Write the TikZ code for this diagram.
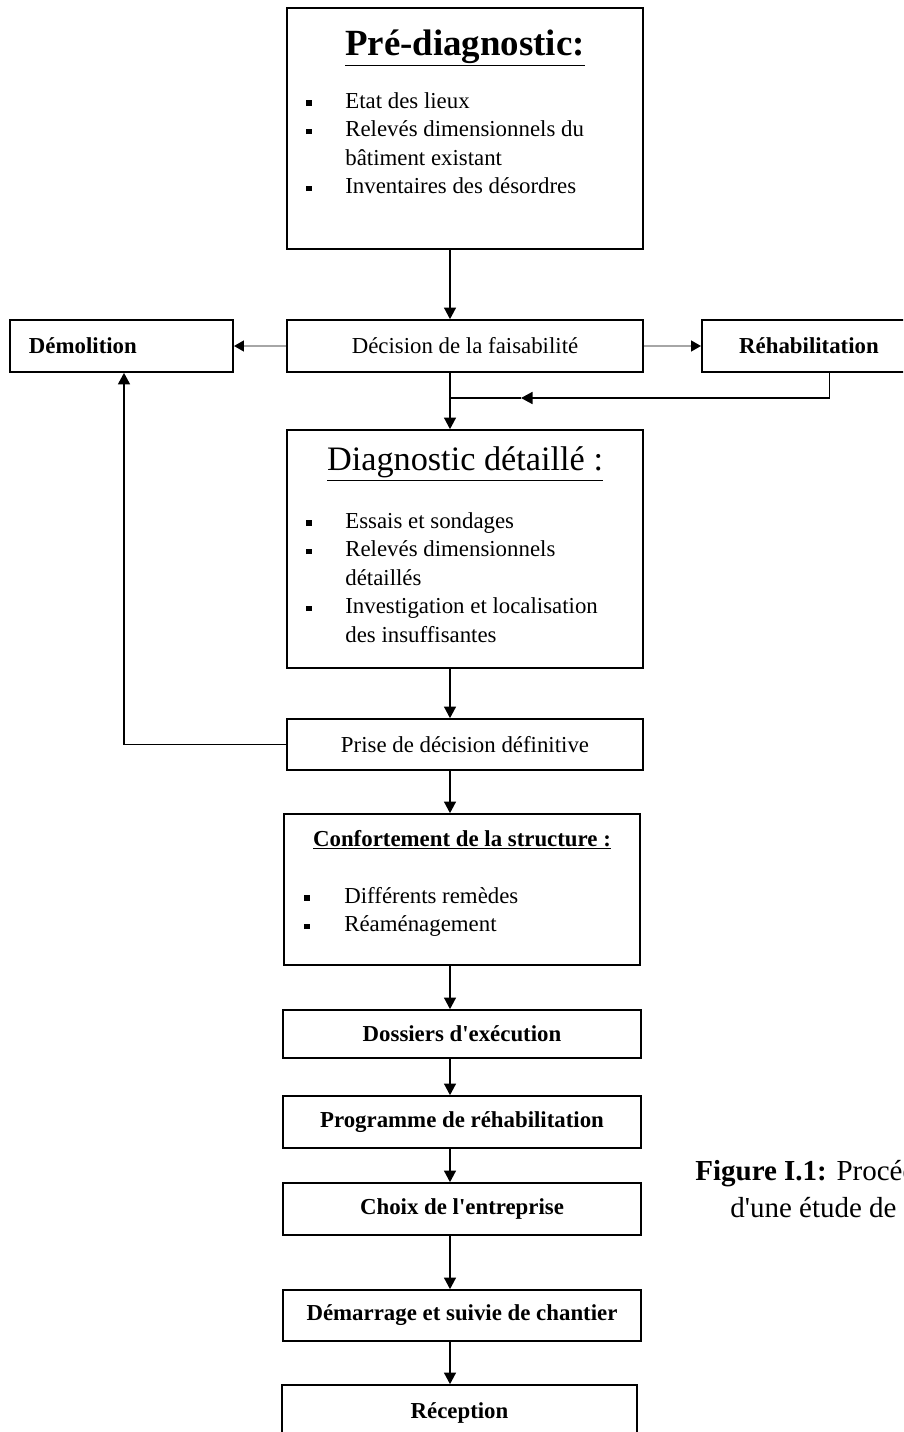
\documentclass[tikz,border=0pt]{standalone}
\usepackage{fontspec}
\setmainfont{Liberation Serif}[Ligatures=TeXOff]
\usetikzlibrary{arrows.meta,positioning}

% petite puce carree des listes
\newcommand{\puce}{\rule[0.25ex]{1.1mm}{1.1mm}}

\begin{document}
\begin{tikzpicture}[x=0.2mm, y=-0.2mm, font=\fontsize{13}{16.2}\selectfont,
  >={Triangle[length=2.3mm, width=2.4mm]},
  box/.style={draw, line width=1pt, minimum width=71.2mm, inner sep=0pt},
  etape/.style={box, minimum height=10.4mm, font=\fontsize{13}{16.2}\selectfont\bfseries},
  titre/.style={anchor=base, inner sep=0pt, font=\fontsize{21}{25}\selectfont\bfseries},
  liste/.style={anchor=north west, inner sep=0pt, align=left},
  arrow/.style={->, line width=0.6pt},
  grisarrow/.style={-{Triangle[length=2mm, width=2.1mm, color=black]}, draw=black!35, line width=1.7pt}]
  \useasboundingbox (0,0) rectangle (903,1432);
  \clip (0,0) rectangle (903,1432);
  \coordinate (axe) at (450,0);

  % pre-diagnostic
  \node[box, minimum height=48.2mm] (prediag) at (465,128.5) {};
  \node[titre] (prediag-titre) at (465,55) {\underline{Pré-diagnostic:}};
  \node[liste] (prediag-liste) at (306,88) {\begin{tabular}{@{}p{7.8mm}@{}l@{}}
    \puce & Etat des lieux\\
    \puce & Relevés dimensionnels du\\
          & bâtiment existant\\
    \puce & Inventaires des désordres
  \end{tabular}};

  % decision de la faisabilite
  \node[box, minimum height=10.4mm] (decision) at (465,346) {Décision de la faisabilité};
  \node[etape, minimum width=44.6mm, text width=37mm, align=left] (demolition) at (121.5,346) {Démolition};
  \node[etape, minimum width=42.8mm] (rehab) at (809,346) {Réhabilitation};
  \coordinate (retour) at (829.5,398);
  \coordinate (pointe) at (521,398);
  \coordinate (jonction) at (450,398);
  \coordinate (montee) at (124,0);

  % diagnostic detaille
  \node[box, minimum height=47.6mm] (diag) at (465,549) {};
  \node[titre, font=\fontsize{19.5}{24}\selectfont] (diag-titre) at (465,470) {\underline{Diagnostic détaillé :}};
  \node[liste] (diag-liste) at (306,508) {\begin{tabular}{@{}p{7.8mm}@{}l@{}}
    \puce & Essais et sondages\\
    \puce & Relevés dimensionnels\\
          & détaillés\\
    \puce & Investigation et localisation\\
          & des insuffisantes
  \end{tabular}};

  \node[box, minimum height=10.2mm] (prise) at (465,744.5) {Prise de décision définitive};

  % confortement
  \node[box, minimum height=30.2mm, minimum width=71.2mm] (conf) at (462,889.5) {};
  \node[titre, font=\fontsize{13}{16.2}\selectfont\bfseries] (conf-titre) at (462,846) {\underline{Confortement de la structure :}};
  \node[liste] (conf-liste) at (304,883) {\begin{tabular}{@{}p{8mm}@{}l@{}}
    \puce & Différents remèdes\\
    \puce & Réaménagement
  \end{tabular}};

  \node[etape, minimum width=71.6mm, minimum height=9.6mm] (dossiers) at (462,1034) {Dossiers d'exécution};
  \node[etape, minimum width=71.6mm] (programme) at (462,1122) {Programme de réhabilitation};
  \node[etape, minimum width=71.6mm] (choix) at (462,1209) {Choix de l'entreprise};
  \node[etape, minimum width=71.6mm, minimum height=10.2mm] (demarrage) at (462,1315.5) {Démarrage et suivie de chantier};
  \node[etape, minimum width=71mm, minimum height=11mm] (reception) at (459.5,1412.5) {Réception};

  \node[anchor=north west, align=left, inner sep=0pt, font=\fontsize{16.5}{21}\selectfont] (legende) at (695,1160)
    {\textbf{Figure I.1:} Procédure\\\hspace*{7mm}d'une étude de réhabilitation};

  % liaisons
  \draw[arrow] (prediag.south -| axe) -- (decision.north -| axe);
  \draw[grisarrow] (decision) -- (demolition);
  \draw[grisarrow] (decision) -- (rehab);
  \draw[arrow, line width=0.9pt] (rehab.south -| retour) -- (retour) -- (pointe);
  \draw[line width=0.6pt] (pointe) -- (jonction);
  \draw[arrow] (decision.south -| axe) -- (diag.north -| axe);
  \draw[arrow] (diag.south -| axe) -- (prise.north -| axe);
  \draw[arrow, line width=0.9pt] (prise.west) -| (demolition.south -| montee);
  \draw[arrow] (prise.south -| axe) -- (conf.north -| axe);
  \draw[arrow] (conf.south -| axe) -- (dossiers.north -| axe);
  \draw[arrow] (dossiers.south -| axe) -- (programme.north -| axe);
  \draw[arrow] (programme.south -| axe) -- (choix.north -| axe);
  \draw[arrow] (choix.south -| axe) -- (demarrage.north -| axe);
  \draw[arrow] (demarrage.south -| axe) -- (reception.north -| axe);
\end{tikzpicture}
\end{document}
